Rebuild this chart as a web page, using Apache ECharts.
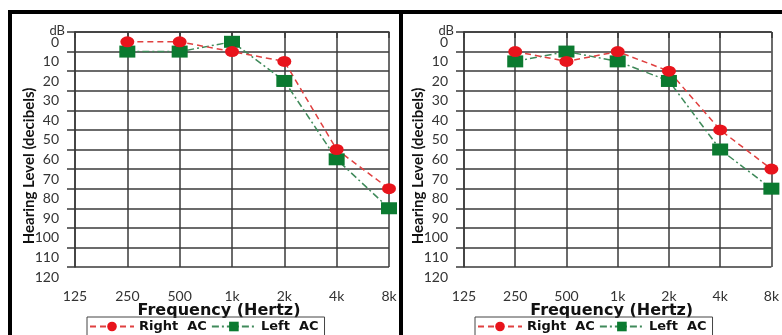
<!DOCTYPE html>
<html>
<head>
<meta charset="utf-8">
<script src="https://cdn.jsdelivr.net/npm/echarts@6/dist/echarts.min.js"></script>
<style>
  html, body { margin: 0; padding: 0; background: #fff; }
  #chart { width: 782px; height: 335px; }
</style>
</head>
<body>
<div id="chart"></div>
<script>
// audiogram: two panels, hearing level in dB by frequency
const frequencies = ['125', '250', '500', '1k', '2k', '4k', '8k']
const panel1RightAC = [null, 0, 0, 5, 10, 55, 75]
const panel1LeftAC = [null, 5, 5, 0, 20, 60, 85]
const panel2RightAC = [null, 5, 10, 5, 15, 45, 65]
const panel2LeftAC = [null, 10, 5, 10, 20, 55, 75]
const levelMin = 0
const levelMax = 120
const levelStep = 10

const FONT = 'Lato, "Open Sans", sans-serif'
const BOLD_FONT = '"DejaVu Sans", sans-serif'
const GRIDLINE = '#3a3a3a'
const RED = '#e8141c'
const GREEN = '#0b7a30'

const panels = [
  { left: 75, right: 75 + 314, right_ac: panel1RightAC, left_ac: panel1LeftAC, legendLeft: 87, xNamePad: 26 },
  { left: 464, right: 464 + 315, right_ac: panel2RightAC, left_ac: panel2LeftAC, legendLeft: 475, xNamePad: 12 }
]

const grid = []
const xAxis = []
const yAxis = []
const series = []
const legend = []
const graphic = [
  { type: 'rect', shape: { x: 10, y: 12, width: 391, height: 400 }, style: { fill: 'none', stroke: '#000', lineWidth: 4 } },
  { type: 'rect', shape: { x: 401, y: 12, width: 500, height: 400 }, style: { fill: 'none', stroke: '#000', lineWidth: 4 } }
]

panels.forEach((p, i) => {
  grid.push({ left: p.left, top: 32, width: p.right - p.left, height: 235 })
  xAxis.push({
    type: 'category',
    gridIndex: i,
    data: frequencies,
    boundaryGap: false,
    axisLine: { lineStyle: { color: GRIDLINE, width: 1.5 } },
    axisTick: { length: 6, alignWithLabel: true, lineStyle: { color: GRIDLINE, width: 1.5 } },
    axisLabel: { margin: 22, color: '#333', fontSize: 14, fontFamily: FONT },
    splitLine: { show: true, lineStyle: { color: GRIDLINE, width: 1.5 } },
    name: 'Frequency (Hertz)',
    nameLocation: 'middle',
    nameGap: 36,
    nameMoveOverlap: false,
    nameTextStyle: { fontWeight: 'bold', fontSize: 16, color: '#111', fontFamily: BOLD_FONT, padding: [0, p.xNamePad, 0, 0] }
  })
  // gridlines + tick labels (labels sit half a band below each line)
  yAxis.push({
    type: 'value',
    gridIndex: i,
    position: 'left',
    inverse: true,
    min: levelMin,
    max: levelMax,
    interval: levelStep,
    axisLine: { show: true, lineStyle: { color: GRIDLINE, width: 1.5 } },
    axisTick: { show: true, length: 8, lineStyle: { color: GRIDLINE, width: 1.5 } },
    axisLabel: { margin: 16, verticalAlign: 'top', padding: [3, 0, 0, 0], color: '#333', fontSize: 14, fontFamily: FONT },
    splitLine: { show: true, lineStyle: { color: GRIDLINE, width: 1.5 } }
  })
  // data axis
  yAxis.push({
    type: 'value',
    gridIndex: i,
    position: 'left',
    inverse: true,
    min: levelMin - levelStep / 2,
    max: levelMax - levelStep / 2,
    axisLine: { show: false },
    axisTick: { show: false },
    axisLabel: { show: false },
    splitLine: { show: false }
  })
  series.push({
    name: 'Left AC',
    type: 'line',
    xAxisIndex: i,
    yAxisIndex: i * 2 + 1,
    data: p.left_ac,
    symbol: 'rect',
    symbolSize: [16, 12],
    itemStyle: { color: GREEN },
    lineStyle: { color: '#3f8a5a', width: 1.5, type: [7, 3, 2, 3] }
  })
  series.push({
    name: 'Right AC',
    type: 'line',
    xAxisIndex: i,
    yAxisIndex: i * 2 + 1,
    data: p.right_ac,
    symbol: 'circle',
    symbolSize: [14, 11],
    itemStyle: { color: RED },
    lineStyle: { color: '#e04040', width: 1.5, type: [6, 4] }
  })
  legend.push({
    left: p.legendLeft,
    top: 317,
    data: ['Right AC', 'Left AC'],
    formatter: name => name.replace(' ', '  '),
    itemWidth: 44,
    itemHeight: 12,
    itemGap: 4,
    padding: [3, 6, 3, 2],
    borderColor: '#444',
    borderWidth: 1,
    textStyle: { fontWeight: 'bold', fontSize: 13, color: '#111', fontFamily: BOLD_FONT }
  })
  graphic.push({
    type: 'text',
    style: { text: 'dB', x: p.left - 10, y: 31, align: 'right', verticalAlign: 'middle', fill: '#333', font: '13px ' + FONT }
  })
  graphic.push({
    type: 'text',
    x: p.left - 46,
    y: 166,
    rotation: Math.PI / 2,
    style: { text: 'Hearing Level (decibels)', align: 'center', verticalAlign: 'middle', fill: '#111', font: 'bold 15px ' + FONT }
  })
})

const chart = echarts.init(document.getElementById('chart'))
chart.setOption({
  backgroundColor: '#fff',
  animation: false,
  grid,
  xAxis,
  yAxis,
  series,
  legend,
  graphic
})
</script>
</body>
</html>
